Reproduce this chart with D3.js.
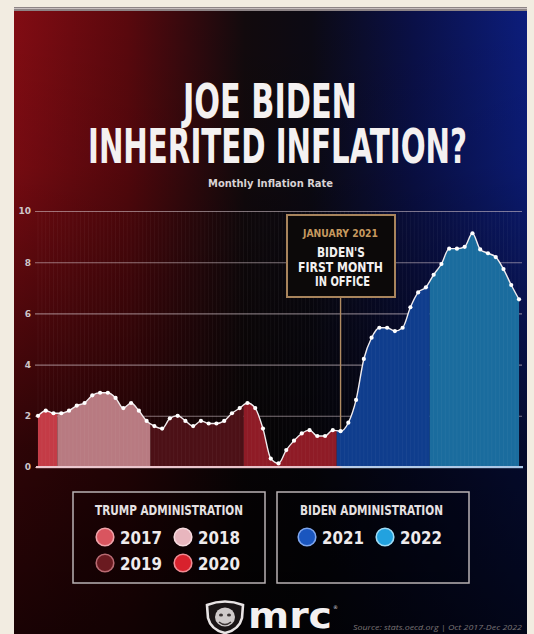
<!DOCTYPE html>
<html>
<head>
<meta charset="utf-8">
<script src="https://cdn.jsdelivr.net/npm/d3@7"></script>
<style>
  body { margin: 0; background: #f2ece1; }
  svg { display: block; }
</style>
</head>
<body>
<div id="chart"></div>
<script>
// monthly inflation (US CPI, yoy %), Oct 2017 - Dec 2022
var years = ["2017", "2018", "2019", "2020", "2021", "2022"];
var monthsInYear = [3, 12, 12, 12, 12, 12];
var firstMonth = ["Oct", "Jan", "Jan", "Jan", "Jan", "Jan"];
var inflation = [
  2.0, 2.2, 2.1,
  2.1, 2.2, 2.4, 2.5, 2.8, 2.9, 2.9, 2.7, 2.3, 2.5, 2.2, 1.8,
  1.6, 1.5, 1.9, 2.0, 1.8, 1.6, 1.8, 1.7, 1.7, 1.8, 2.1, 2.3,
  2.5, 2.3, 1.5, 0.33, 0.14, 0.66, 1.03, 1.31, 1.44, 1.21, 1.21, 1.44,
  1.4, 1.73, 2.62, 4.22, 5.05, 5.44, 5.44, 5.31, 5.44, 6.24, 6.82, 7.02,
  7.51, 7.93, 8.53, 8.53, 8.6, 9.13, 8.5, 8.35, 8.2, 7.73, 7.11, 6.55
];
var yTicks = [0, 2, 4, 6, 8, 10];
var areaColors = ["#c43b46", "#b87a81", "#4c1016", "#8f1b26", "#0f3d8d", "#1a6c9e"];
var dotColors = ["#d9555f", "#e8b6be", "#6a1a20", "#d8222d", "#1a56bf", "#22a2df"];
var ringColors = ["#f0a4ab", "#f7dade", "#b86a72", "#f08b93", "#7ea6ee", "#9fdcf6"];

var monthNames = ["Jan","Feb","Mar","Apr","May","Jun","Jul","Aug","Sep","Oct","Nov","Dec"];
var months = [], yearOf = [];
years.forEach(function(yr, i) {
  var start = monthNames.indexOf(firstMonth[i]);
  for (var k = 0; k < monthsInYear[i]; k++) {
    months.push(monthNames[start + k] + " " + yr);
    yearOf.push(i);
  }
});

var W = 534, H = 634;
var condensed = "'Liberation Sans Narrow','DejaVu Sans Condensed','Roboto Condensed','Liberation Sans',sans-serif";

var svg = d3.select("#chart").append("svg")
    .attr("width", W)
    .attr("height", H);

var defs = svg.append("defs");

// background gradients
var hg = defs.append("linearGradient").attr("id", "hg").attr("x1", 0).attr("x2", 1).attr("y1", 0).attr("y2", 0);
[["0%", "#820c13"], ["22%", "#5a080d"], ["45%", "#120a0d"], ["58%", "#0c0a14"], ["78%", "#0a1048"], ["100%", "#0c1d7c"]]
  .forEach(function(s) { hg.append("stop").attr("offset", s[0]).attr("stop-color", s[1]); });

var vg = defs.append("linearGradient").attr("id", "vg").attr("x1", 0).attr("x2", 0).attr("y1", 0).attr("y2", 1);
[["0%", 0], ["25%", 0.1], ["45%", 0.35], ["70%", 0.65], ["100%", 0.8]]
  .forEach(function(s) { vg.append("stop").attr("offset", s[0]).attr("stop-color", "#000").attr("stop-opacity", s[1]); });

var bg = defs.append("linearGradient").attr("id", "baseG").attr("x1", 0).attr("x2", 1).attr("y1", 0).attr("y2", 0);
[["0%", "#ecc9d0"], ["62%", "#e6bfc6"], ["63%", "#b8cde8"], ["100%", "#a9c6e6"]]
  .forEach(function(s) { bg.append("stop").attr("offset", s[0]).attr("stop-color", s[1]); });

svg.append("rect").attr("x", 14).attr("y", 11).attr("width", 513).attr("height", H - 11).attr("fill", "url(#hg)");
svg.append("rect").attr("x", 14).attr("y", 11).attr("width", 513).attr("height", H - 11).attr("fill", "url(#vg)");
svg.append("rect").attr("x", 14).attr("y", 7).attr("width", 513).attr("height", 4).attr("fill", "#8d8486");
svg.append("rect").attr("x", 14).attr("y", 8).attr("width", 513).attr("height", 1).attr("fill", "#c9c0c0");

// title
svg.append("text").text("JOE BIDEN")
    .attr("x", 183).attr("y", 118)
    .attr("textLength", 174).attr("lengthAdjust", "spacingAndGlyphs")
    .style("font-family", condensed).style("font-weight", "bold").style("font-size", "48px")
    .attr("fill", "#f4f1f1");
svg.append("text").text("INHERITED INFLATION?")
    .attr("x", 88).attr("y", 163)
    .attr("textLength", 379).attr("lengthAdjust", "spacingAndGlyphs")
    .style("font-family", condensed).style("font-weight", "bold").style("font-size", "48px")
    .attr("fill", "#f4f1f1");
svg.append("text").text("Monthly Inflation Rate")
    .attr("x", 208).attr("y", 187)
    .attr("textLength", 125).attr("lengthAdjust", "spacingAndGlyphs")
    .style("font-family", condensed).style("font-weight", "bold").style("font-size", "11px")
    .attr("fill", "#d8d2d4");

// scales
var x = d3.scalePoint().domain(months).range([38, 519]);
var y = d3.scaleLinear().domain([0, 10]).range([467, 211]);

// grid
var grid = svg.append("g")
    .attr("transform", "translate(35,0)")
    .call(d3.axisLeft(y).tickValues(yTicks).tickSize(-487).tickPadding(4));
grid.select(".domain").remove();
grid.selectAll("line").attr("stroke", "#d9c9cf").attr("stroke-opacity", 0.55).attr("stroke-width", 1.1);
grid.selectAll("text")
    .attr("fill", "#cfc6c8")
    .style("font-family", "'DejaVu Sans',sans-serif").style("font-weight", "bold").style("font-size", "9px");

// area clip
var area = d3.area()
    .x(function(d, i) { return x(months[i]); })
    .y0(y(0))
    .y1(function(d) { return y(d); })
    .curve(d3.curveMonotoneX);

defs.append("clipPath").attr("id", "under")
  .append("path").attr("d", area(inflation));

// year bands, split half way between months
function edge(i) {
  if (i <= 0) return x(months[0]);
  if (i >= months.length) return x(months[months.length - 1]);
  return (x(months[i - 1]) + x(months[i])) / 2;
}
var bands = [], start = 0;
years.forEach(function(yr, i) {
  bands.push({ year: yr, i: i, x0: edge(start), x1: edge(start + monthsInYear[i]) });
  start += monthsInYear[i];
});

svg.append("g").attr("clip-path", "url(#under)")
  .selectAll("rect").data(bands).enter().append("rect")
    .attr("x", function(d) { return d.x0; })
    .attr("width", function(d) { return d.x1 - d.x0; })
    .attr("y", y(10))
    .attr("height", y(0) - y(10))
    .attr("fill", function(d) { return areaColors[d.i]; });

// faint vertical stripes
var stripes = [];
months.forEach(function(m, i) {
  stripes.push(x(m));
  if (i < months.length - 1) stripes.push((x(m) + x(months[i + 1])) / 2);
});
svg.append("g").selectAll("line").data(stripes).enter().append("line")
    .attr("x1", function(d) { return d; }).attr("x2", function(d) { return d; })
    .attr("y1", y(10)).attr("y2", y(0))
    .attr("stroke", "#ffffff").attr("stroke-opacity", 0.045).attr("stroke-width", 1);

// baseline
svg.append("rect")
    .attr("x", 36).attr("y", y(0) - 1)
    .attr("width", 487).attr("height", 2.2)
    .attr("fill", "url(#baseG)");

// annotation
var jan = x("Jan 2021");
svg.append("line")
    .attr("x1", jan).attr("x2", jan)
    .attr("y1", 297).attr("y2", y(inflation[months.indexOf("Jan 2021")]))
    .attr("stroke", "#b08b62").attr("stroke-width", 1.4);

// line and dots
var line = d3.line()
    .x(function(d, i) { return x(months[i]); })
    .y(function(d) { return y(d); })
    .curve(d3.curveMonotoneX);

svg.append("path")
    .attr("d", line(inflation))
    .attr("fill", "none")
    .attr("stroke", "#f1ecee")
    .attr("stroke-width", 1.4);

svg.append("g").selectAll("circle").data(inflation).enter().append("circle")
    .attr("cx", function(d, i) { return x(months[i]); })
    .attr("cy", function(d) { return y(d); })
    .attr("r", 2.1)
    .attr("fill", "#ffffff");

var ann = svg.append("g");
ann.append("rect")
    .attr("x", 287).attr("y", 215).attr("width", 108).attr("height", 82)
    .attr("fill", "#0c0909").attr("stroke", "#a8845c").attr("stroke-width", 2);
ann.append("text").text("JANUARY 2021")
    .attr("x", 303).attr("y", 236.5)
    .attr("textLength", 75).attr("lengthAdjust", "spacingAndGlyphs")
    .style("font-family", condensed).style("font-weight", "bold").style("font-size", "11px")
    .attr("fill", "#c6995f");
[["BIDEN'S", 317, 257, 48], ["FIRST MONTH", 298, 271.5, 85], ["IN OFFICE", 315, 286, 55]].forEach(function(t) {
  ann.append("text").text(t[0])
      .attr("x", t[1]).attr("y", t[2])
      .attr("textLength", t[3]).attr("lengthAdjust", "spacingAndGlyphs")
      .style("font-family", condensed).style("font-weight", "bold").style("font-size", "14.5px")
      .attr("fill", "#f3f0f0");
});

// legend
var legendPos = [
  { cx: 105, cy: 537 }, { cx: 183, cy: 537 },
  { cx: 105, cy: 563 }, { cx: 183, cy: 563 },
  { cx: 307, cy: 537 }, { cx: 385, cy: 537 }
];
var boxes = [
  { x: 73, title: "TRUMP ADMINISTRATION", tx: 95, tw: 148 },
  { x: 277, title: "BIDEN ADMINISTRATION", tx: 300, tw: 143 }
];
var lg = svg.append("g");
lg.selectAll("rect").data(boxes).enter().append("rect")
    .attr("x", function(d) { return d.x; }).attr("y", 492)
    .attr("width", 192).attr("height", 91)
    .attr("fill", "#000").attr("fill-opacity", 0.15)
    .attr("stroke", "#b9b2b4").attr("stroke-width", 1.5);
lg.selectAll("text.head").data(boxes).enter().append("text")
    .attr("class", "head")
    .text(function(d) { return d.title; })
    .attr("x", function(d) { return d.tx; }).attr("y", 515)
    .attr("textLength", function(d) { return d.tw; }).attr("lengthAdjust", "spacingAndGlyphs")
    .style("font-family", condensed).style("font-weight", "bold").style("font-size", "13.5px")
    .attr("fill", "#e6e1e2");

var items = lg.selectAll("g.item").data(years).enter().append("g").attr("class", "item");
items.append("circle")
    .attr("cx", function(d, i) { return legendPos[i].cx; })
    .attr("cy", function(d, i) { return legendPos[i].cy; })
    .attr("r", 8.8)
    .attr("fill", function(d, i) { return dotColors[i]; })
    .attr("stroke", function(d, i) { return ringColors[i]; })
    .attr("stroke-width", 1.6);
items.append("text")
    .text(function(d) { return d; })
    .attr("x", function(d, i) { return legendPos[i].cx + 15; })
    .attr("y", function(d, i) { return legendPos[i].cy + 6.5; })
    .attr("textLength", 42).attr("lengthAdjust", "spacingAndGlyphs")
    .style("font-family", "'DejaVu Sans',sans-serif").style("font-weight", "bold").style("font-size", "18px")
    .attr("fill", "#efebec");

// footer logo
var logo = svg.append("g");
logo.append("path")
    .attr("d", "M207,605 Q225,598 243,605 L242,618 Q239,630 225,633 Q211,630 208,618 Z")
    .attr("fill", "#1a1516").attr("stroke", "#e8e4e4").attr("stroke-width", 2.6);
logo.append("ellipse").attr("cx", 225).attr("cy", 617).attr("rx", 10).attr("ry", 9.5).attr("fill", "#cfcaca");
logo.append("ellipse").attr("cx", 221).attr("cy", 615).attr("rx", 2).attr("ry", 1.6).attr("fill", "#3a3333");
logo.append("ellipse").attr("cx", 229).attr("cy", 615).attr("rx", 2).attr("ry", 1.6).attr("fill", "#3a3333");
logo.append("path").attr("d", "M219,622 Q225,627 231,622").attr("fill", "none").attr("stroke", "#3a3333").attr("stroke-width", 1.5);
logo.append("text").text("mrc")
    .attr("x", 248).attr("y", 628)
    .attr("textLength", 84).attr("lengthAdjust", "spacingAndGlyphs")
    .style("font-family", "'DejaVu Sans',sans-serif").style("font-weight", "900").style("font-size", "36px")
    .attr("fill", "#f4f1f1");
logo.append("text").text("®")
    .attr("x", 333).attr("y", 609)
    .style("font-family", "'DejaVu Sans',sans-serif").style("font-size", "5px")
    .attr("fill", "#ddd");

svg.append("text").text("Source: stats.oecd.org  |  Oct 2017-Dec 2022")
    .attr("x", 353).attr("y", 630)
    .attr("textLength", 169).attr("lengthAdjust", "spacingAndGlyphs")
    .style("font-family", "'Open Sans',sans-serif").style("font-style", "italic").style("font-size", "7.5px")
    .attr("fill", "#7a7475");
</script>
</body>
</html>
